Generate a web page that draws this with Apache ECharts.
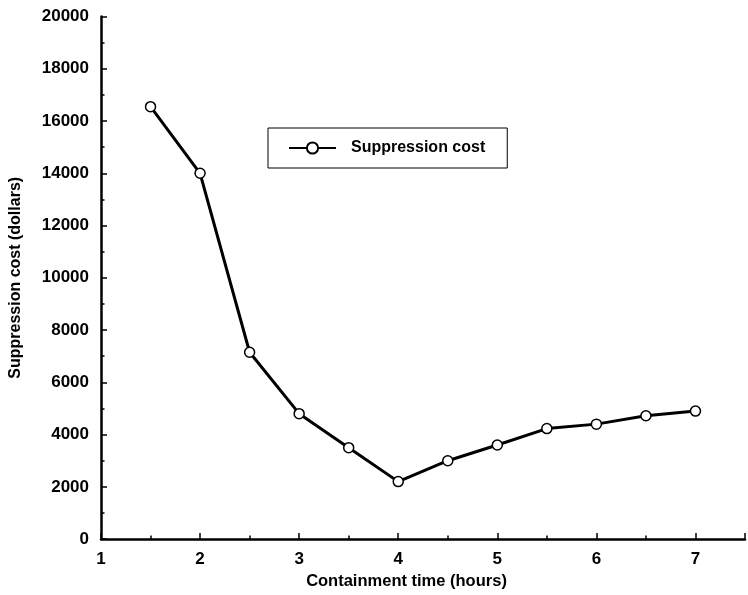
<!DOCTYPE html>
<html>
<head>
<meta charset="utf-8">
<script src="https://cdn.jsdelivr.net/npm/echarts@6/dist/echarts.min.js"></script>
<style>
html,body{margin:0;padding:0;background:#fff;}
#chart{width:748px;height:595px;}
</style>
</head>
<body>
<div id="chart"></div>
<script>
const containmentHours = [1.5, 2, 2.5, 3, 3.5, 4, 4.5, 5, 5.5, 6, 6.5, 7];
const suppressionCost = [16550, 14000, 7150, 4800, 3500, 2200, 3000, 3600, 4230, 4400, 4720, 4900];
const seriesName = 'Suppression cost';
const xTitle = 'Containment time (hours)';
const yTitle = 'Suppression cost (dollars)';

const FONT = "'Liberation Sans', Arial, sans-serif";
const chart = echarts.init(document.getElementById('chart'), null, {renderer: 'canvas'});
const txt = {color: '#000', fontFamily: FONT, fontSize: 16, fontWeight: 'bold'};
const tickTxt = Object.assign({}, txt, {fontSize: 17});

chart.setOption({
  animation: false,
  backgroundColor: '#fff',
  grid: {left: 100, right: 1, top: 16.5, bottom: 53.5, containLabel: false},
  legend: {
    left: 268, top: 128,
    padding: [12, 22, 12, 20],
    itemWidth: 47, itemHeight: 14,
    borderColor: '#000', borderWidth: 1,
    textStyle: Object.assign({}, txt, {padding: [0, 0, 0, 10]}),
    data: [seriesName]
  },
  xAxis: [{
    type: 'value', min: 1, max: 7.5, interval: 1,
    name: xTitle, nameLocation: 'middle', nameGap: 31,
    nameTextStyle: Object.assign({}, txt, {fontSize: 16.5, padding: [0, 33, 0, 0]}),
    axisLine: {show: true, lineStyle: {color: '#000', width: 2.5}},
    axisTick: {show: true, inside: true, length: 6, lineStyle: {color: '#000', width: 1.5}},
    axisLabel: Object.assign({}, tickTxt, {margin: 12, formatter: v => (Number.isInteger(v) ? String(v) : '')}),
    splitLine: {show: false}
  }, {
    type: 'value', min: 1, max: 7.5, interval: 0.5, position: 'bottom',
    axisLine: {show: false},
    axisTick: {show: true, inside: true, length: 3.5, lineStyle: {color: '#000', width: 1.5}},
    axisLabel: {show: false},
    splitLine: {show: false}
  }],
  yAxis: [{
    type: 'value', min: 0, max: 20000, interval: 2000,
    name: yTitle, nameLocation: 'middle', nameGap: 77,
    nameTextStyle: txt,
    axisLine: {show: true, lineStyle: {color: '#000', width: 2.5}},
    axisTick: {show: true, inside: true, length: 6, lineStyle: {color: '#000', width: 1.5}},
    axisLabel: Object.assign({}, tickTxt, {margin: 12, formatter: v => String(v)}),
    splitLine: {show: false}
  }, {
    type: 'value', min: 0, max: 20000, interval: 1000, position: 'left',
    axisLine: {show: false},
    axisTick: {show: true, inside: true, length: 3.5, lineStyle: {color: '#000', width: 1.5}},
    axisLabel: {show: false},
    splitLine: {show: false}
  }],
  series: [{
    name: seriesName,
    type: 'line',
    xAxisIndex: 0, yAxisIndex: 0,
    data: containmentHours.map((h, i) => [h, suppressionCost[i]]),
    symbol: 'circle', symbolSize: 10,
    showAllSymbol: true,
    lineStyle: {color: '#000', width: 3},
    itemStyle: {color: '#fff', borderColor: '#000', borderWidth: 1.5},
    z: 3
  }]
});
</script>
</body>
</html>
